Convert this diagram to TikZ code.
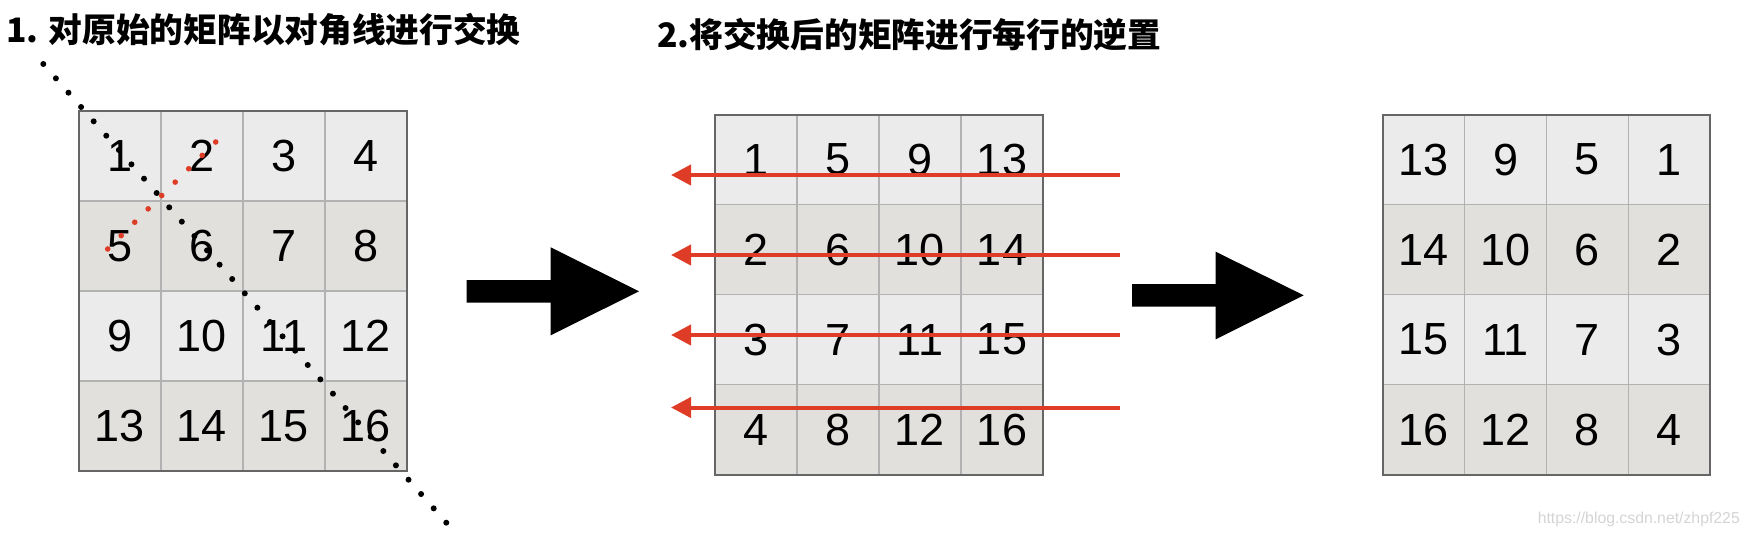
\documentclass[tikz,border=0pt]{standalone}
\usepackage{fontspec}
\setmainfont{Liberation Sans}
\newfontfamily\cjk{Noto Sans CJK SC}
\usetikzlibrary{arrows.meta}

\definecolor{cellA}{RGB}{235,235,235}
\definecolor{cellB}{RGB}{225,224,220}
\definecolor{gridgray}{RGB}{178,178,178}
\definecolor{framegray}{RGB}{102,102,102}
\definecolor{swapred}{RGB}{222,60,38}
\definecolor{markgray}{RGB}{212,212,212}

\begin{document}
\begin{tikzpicture}[x=1pt,y=-1pt,
    cell/.style={draw=gridgray,line width=1.4pt,minimum width=82pt,minimum height=90pt,inner sep=0pt,outer sep=0pt,font=\fontsize{45}{45}\selectfont},
    frame/.style={draw=framegray,line width=2.2pt},
    title/.style={inner sep=0pt,font={\cjk\bfseries\fontsize{33.7}{40}\selectfont}},
    dotline/.style={line width=6pt,line cap=round,dash pattern=on 0pt off 19.08pt},
    swapdots/.style={swapred,line width=5.6pt,line cap=round,dash pattern=on 0pt off 19pt},
    rowarrow/.style={swapred,line width=4pt,-{Triangle[length=20pt,width=20pt]}},
    bigarrow/.style={fill=black},
    watermark/.style={inner sep=0pt,text=markgray,font=\fontsize{15.8}{18}\selectfont}]
    		\useasboundingbox (0,0) rectangle (1748,536);
    		
    		% titles
    		\node[title,anchor=base west] (step1) at (6,42) {1. 对原始的矩阵以对角线进行交换};
    		\node[title,anchor=base west] (step2) at (657,47) {2.将交换后的矩阵进行每行的逆置};
    		
    		% original matrix
    		\foreach \r/\fc/\row in {1/cellA/{1,2,3,4},2/cellB/{5,6,7,8},3/cellA/{9,10,11,12},4/cellB/{13,14,15,16}}
    		  \foreach \v [count=\c] in \row
    		    \node[cell,fill=\fc] (a-\r-\c) at ({79+82*\c-41},{111+90*\r-45}) {\v};
    		\draw[frame] (a-1-1.north west) rectangle (a-4-4.south east);
    		
    		% transposed matrix
    		\foreach \r/\fc/\row in {1/cellA/{1,5,9,13},2/cellB/{2,6,10,14},3/cellA/{3,7,11,15},4/cellB/{4,8,12,16}}
    		  \foreach \v [count=\c] in \row
    		    \node[cell,fill=\fc] (b-\r-\c) at ({714.6+82.1*\c-41},{114.7+90*\r-45}) {\v};
    		\draw[frame] (b-1-1.north west) rectangle (b-4-4.south east);
    		
    		% reversed rows
    		\foreach \r/\fc/\row in {1/cellA/{13,9,5,1},2/cellB/{14,10,6,2},3/cellA/{15,11,7,3},4/cellB/{16,12,8,4}}
    		  \foreach \v [count=\c] in \row
    		    \node[cell,fill=\fc] (c-\r-\c) at ({1382.7+81.9*\c-41},{114.7+90*\r-45}) {\v};
    		\draw[frame] (c-1-1.north west) rectangle (c-4-4.south east);
    		
    		% diagonal and swap
    		\coordinate (diagA) at (43.3,64);
    		\coordinate (diagB) at (446.3,522.7);
    		\draw[dotline] (diagA) -- (diagB);
    		\coordinate (swapA) at (215.7,142);
    		\coordinate (swapB) at (107.7,249);
    		\draw[swapdots] (swapA) -- (swapB);
    		
    		% row reversal arrows
    		\foreach \y [count=\i] in {175,255,335,407.5} {
    		  \coordinate (rs\i) at (1120,\y);
    		  \coordinate (re\i) at (671,\y);
    		  \draw[rowarrow] (rs\i) -- (re\i);
    		}
    		
    		% big arrows
    		\fill[bigarrow] (466.7,280) -- (550.7,280) -- (550.7,247.3) -- (639,291.3)
    		  -- (550.7,335.3) -- (550.7,302.7) -- (466.7,302.7) -- cycle;
    		\fill[bigarrow] (1132,284) -- (1215.7,284) -- (1215.7,251.7) -- (1303.7,295.3)
    		  -- (1215.7,339.3) -- (1215.7,306.7) -- (1132,306.7) -- cycle;
    		
    		\node[watermark,anchor=base east] (mark) at (1740,523) {https://blog.csdn.net/zhpf225};
    	\end{tikzpicture}
\end{document}
